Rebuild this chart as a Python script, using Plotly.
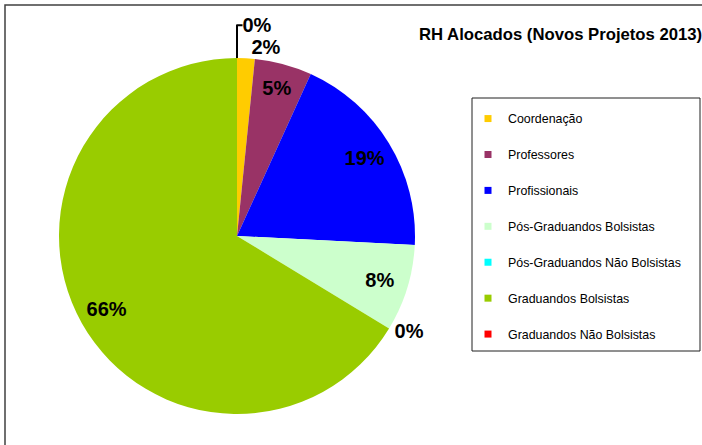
import plotly.graph_objects as go

W, H = 702, 445

labels = ["Coordenação", "Professores", "Profissionais", "Pós-Graduandos Bolsistas",
          "Pós-Graduandos Não Bolsistas", "Graduandos Bolsistas", "Graduandos Não Bolsistas"]
values = [1.6, 5.2, 19.0, 7.9, 0, 66.3, 0]
colors = ["#FFCC00", "#993366", "#0000FF", "#CCFFCC", "#00FFFF", "#99CC00", "#FF0000"]
text_positions = ["outside", "inside", "inside", "inside", "outside", "inside", "outside"]

title_text = "RH Alocados (Novos Projetos 2013)"

def px_x(v):
    return v / W

def px_y(v):
    return 1 - v / H

cx, cy, r = 237, 236, 178
domain = dict(x=[px_x(cx - r), px_x(cx + r)], y=[px_y(cy + r), px_y(cy - r)])
font_family = "Liberation Sans, Arial"

fig = go.Figure()
# coloured slices
fig.add_trace(go.Pie(
    labels=labels, values=values, sort=False, direction="clockwise", rotation=0,
    marker=dict(colors=colors, line=dict(width=0)),
    textinfo="none", domain=domain, showlegend=False, automargin=False,
    hoverinfo="label+percent",
))
# transparent ring carrying the percentage labels (places them near the rim)
fig.add_trace(go.Pie(
    labels=labels, values=values, sort=False, direction="clockwise", rotation=0,
    hole=0.68,
    marker=dict(colors=["rgba(0,0,0,0)"] * len(labels), line=dict(width=0)),
    texttemplate="<b>%{percent:.0%}</b>", textposition=text_positions,
    textfont=dict(family=font_family, size=20, color="black"),
    insidetextorientation="horizontal",
    domain=domain, showlegend=False, automargin=False, hoverinfo="skip",
))

# legend entries as dummy traces so spacing can be controlled
for i, (lab, col) in enumerate(zip(labels, colors)):
    fig.add_trace(go.Scatter(
        x=[None], y=[None], mode="markers", name=lab,
        marker=dict(symbol="square", size=7, color=col),
        legendgroup=f"g{i}", showlegend=True,
    ))

fig.update_layout(
    width=W, height=H,
    margin=dict(l=0, r=0, t=0, b=0),
    paper_bgcolor="white", plot_bgcolor="white",
    xaxis=dict(visible=False), yaxis=dict(visible=False),
    legend=dict(
        x=px_x(468), y=px_y(104), xanchor="left", yanchor="top",
        font=dict(family=font_family, size=12.4, color="black"),
        bgcolor="rgba(0,0,0,0)", borderwidth=0,
        tracegroupgap=16.8, itemwidth=30, itemclick=False,
    ),
    annotations=[dict(
        text="<b>" + title_text + "</b>", x=px_x(417), y=px_y(35), xref="paper", yref="paper",
        xanchor="left", yanchor="middle", showarrow=False,
        font=dict(family=font_family, size=16.7, color="black"),
    )],
    shapes=[
        dict(type="rect", xref="paper", yref="paper", x0=px_x(5), y0=px_y(460), x1=px_x(720), y1=px_y(5),
             line=dict(color="#404040", width=1.5), layer="above"),
        dict(type="rect", xref="paper", yref="paper", x0=px_x(472), y0=px_y(351), x1=px_x(700), y1=px_y(98),
             line=dict(color="#202020", width=1), layer="below"),
    ],
)

fig.write_html("out.html", config={"displayModeBar": False},
               post_script="document.body.style.margin='0';")
